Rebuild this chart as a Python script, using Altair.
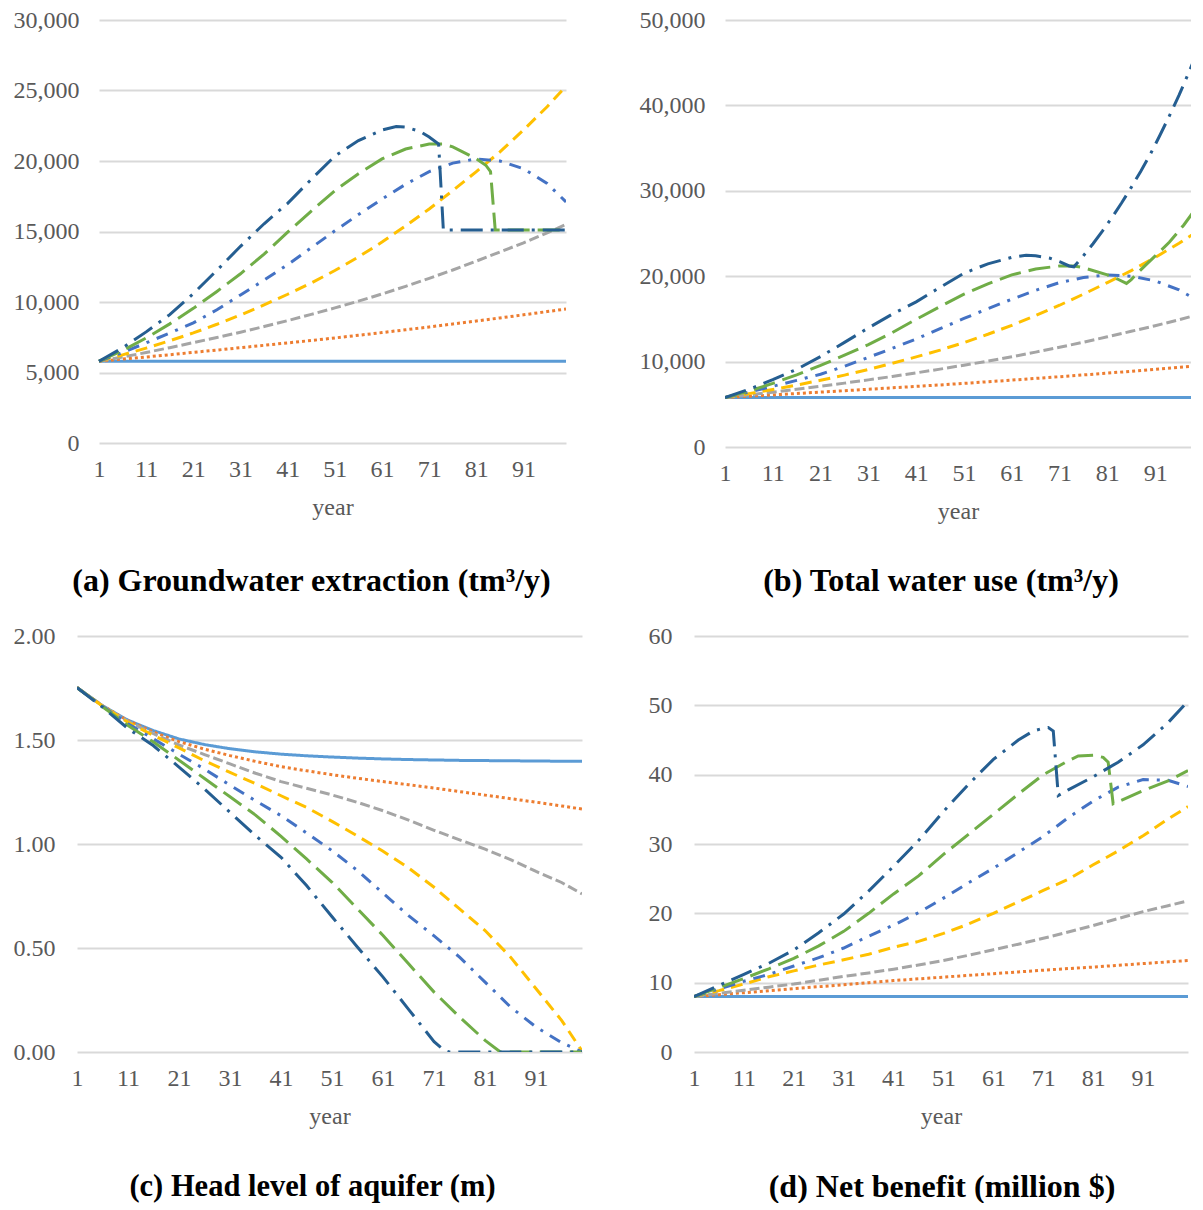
import altair as alt
import pandas as pd

# ---------------- data ----------------
NAMES = ["0%", "0.5%", "1%", "1.5%", "2%", "2.5%", "3%"]
COLORS = ["#5B9BD5", "#ED7D31", "#A5A5A5", "#FFC000", "#4472C4", "#70AD47", "#255E91"]
DASHES = [[1, 0], [3, 3], [10, 4], [12, 7], [12, 8, 3, 8], [22, 8], [22, 8, 3, 8]]

GRID = [1, 6, 11, 16, 21, 26, 31, 36, 41, 46, 51, 56, 61, 66, 71, 76, 81, 86, 91, 96, 100]
X_TICKS = [1, 11, 21, 31, 41, 51, 61, 71, 81, 91]

# (a) Groundwater extraction
A0 = [5800, 5800, 5800, 5800, 5800, 5800, 5800, 5800, 5800, 5800, 5800,
      5800, 5800, 5800, 5800, 5800, 5800, 5800, 5800, 5800, 5800]
A1 = [5800, 5950, 6100, 6260, 6430, 6590, 6760, 6930, 7100, 7270, 7450,
      7640, 7830, 8030, 8230, 8440, 8650, 8870, 9090, 9320, 9500]
A2 = [5800, 6100, 6420, 6760, 7120, 7480, 7860, 8260, 8680, 9120, 9580,
      10060, 10570, 11110, 11680, 12270, 12900, 13550, 14200, 14900, 15500]
A3 = [5800, 6250, 6730, 7250, 7810, 8420, 9080, 9800, 10550, 11350, 12230,
      13200, 14250, 15400, 16600, 17900, 19250, 20650, 22200, 23850, 25300]
A4 = [5800, 6420, 7100, 7800, 8520, 9450, 10500, 11550, 12650, 13850, 15050,
      16200, 17300, 18350, 19250, 19850, 20150, 20000, 19450, 18400, 17100]
A5_YEARS = [1, 6, 11, 16, 21, 26, 31, 36, 41, 46, 51, 56, 61, 66, 71,
            74, 76, 81, 83, 84, 85, 86, 91, 96, 100]
A5 = [5800, 6550, 7450, 8450, 9550, 10750, 12000, 13400, 14950, 16450, 17900,
      19100, 20150, 20850, 21200, 21200, 21000, 20150, 19700, 19250, 15100,
      15100, 15100, 15100, 15100]
A6_YEARS = [1, 6, 11, 16, 21, 26, 31, 36, 41, 46, 51, 56, 61, 64, 66, 69, 71,
            73, 74, 76, 81, 86, 91, 96, 100]
A6 = [5800, 6750, 7880, 9100, 10600, 12250, 13950, 15550, 17000, 18700, 20350,
      21450, 22200, 22450, 22400, 22100, 21700, 21200, 15100, 15100, 15100,
      15100, 15100, 15100, 15100]

# (b) Total water use (first five series equal to (a))
B5_YEARS = [1, 6, 11, 16, 21, 26, 31, 36, 41, 46, 51, 56, 61, 66, 71,
            74, 76, 81, 83, 85, 86, 87, 89, 92, 94, 97, 100]
B5 = [5800, 6550, 7450, 8450, 9550, 10750, 12000, 13400, 14950, 16450, 17900,
      19100, 20150, 20850, 21200, 21200, 21000, 20150, 19700, 19150, 19600,
      20200, 21300, 22900, 24000, 26000, 28300]
B6_YEARS = [1, 6, 11, 16, 21, 26, 31, 36, 41, 46, 51, 56, 61, 64, 66, 69, 71,
            73, 74, 76, 78, 80, 82, 84, 86, 88, 90, 92, 94, 96, 98, 100]
B6 = [5800, 6750, 7880, 9100, 10600, 12250, 13950, 15550, 17000, 18700, 20350,
      21450, 22200, 22450, 22400, 22100, 21700, 21200, 21100, 22400, 23800,
      25300, 26900, 28600, 30400, 32300, 34300, 36500, 38800, 41200, 43800, 46500]

# (c) Head level of aquifer
C0 = [1.752, 1.665, 1.595, 1.545, 1.505, 1.478, 1.458, 1.443, 1.432, 1.424, 1.418,
      1.413, 1.409, 1.406, 1.404, 1.402, 1.401, 1.400, 1.399, 1.398, 1.398]
C1 = [1.752, 1.665, 1.593, 1.538, 1.492, 1.456, 1.425, 1.397, 1.372, 1.352, 1.333,
      1.316, 1.300, 1.285, 1.269, 1.252, 1.235, 1.218, 1.201, 1.183, 1.168]
C2 = [1.752, 1.664, 1.590, 1.530, 1.476, 1.430, 1.385, 1.340, 1.300, 1.268, 1.236,
      1.200, 1.160, 1.115, 1.066, 1.020, 0.975, 0.925, 0.868, 0.815, 0.760]
C3 = [1.752, 1.663, 1.585, 1.522, 1.462, 1.400, 1.344, 1.290, 1.232, 1.176, 1.109,
      1.038, 0.965, 0.885, 0.792, 0.688, 0.584, 0.456, 0.304, 0.152, 0.005]
C4 = [1.752, 1.662, 1.578, 1.505, 1.432, 1.360, 1.283, 1.208, 1.136, 1.053, 0.968,
      0.872, 0.763, 0.656, 0.558, 0.456, 0.336, 0.216, 0.120, 0.045, 0.000]
C5_YEARS = [1, 6, 11, 16, 21, 26, 31, 36, 41, 46, 51, 56, 61, 66, 71, 76, 81,
            84, 86, 91, 96, 100]
C5 = [1.752, 1.660, 1.570, 1.490, 1.403, 1.315, 1.227, 1.139, 1.037, 0.928, 0.816,
      0.688, 0.560, 0.424, 0.288, 0.168, 0.056, 0.0, 0.0, 0.0, 0.0, 0.0]
C6_YEARS = [1, 6, 11, 16, 21, 26, 31, 36, 41, 46, 51, 56, 61, 66, 71,
            73, 74, 76, 81, 86, 91, 96, 100]
C6 = [1.752, 1.658, 1.555, 1.472, 1.370, 1.264, 1.152, 1.040, 0.936, 0.800, 0.650,
      0.504, 0.360, 0.205, 0.050, 0.008, 0.0, 0.0, 0.0, 0.0, 0.0, 0.0, 0.0]

# (d) Net benefit
D0 = [8.0, 8.0, 8.0, 8.0, 8.0, 8.0, 8.0, 8.0, 8.0, 8.0, 8.0,
      8.0, 8.0, 8.0, 8.0, 8.0, 8.0, 8.0, 8.0, 8.0, 8.0]
D1 = [8.0, 8.27, 8.55, 8.85, 9.15, 9.42, 9.70, 10.0, 10.3, 10.55, 10.8,
      11.05, 11.3, 11.55, 11.8, 12.03, 12.25, 12.5, 12.75, 13.0, 13.2]
D2 = [8.0, 8.45, 8.9, 9.35, 9.8, 10.35, 10.9, 11.4, 11.95, 12.55, 13.2,
      13.95, 14.75, 15.55, 16.4, 17.3, 18.25, 19.25, 20.25, 21.1, 21.8]
D3 = [8.0, 8.85, 9.8, 10.85, 11.7, 12.55, 13.3, 14.1, 15.1, 15.95, 17.1,
      18.45, 20.0, 21.65, 23.3, 24.9, 27.0, 29.0, 31.2, 33.6, 35.4]
D4 = [8.0, 9.1, 10.2, 11.2, 12.4, 13.6, 15.0, 16.7, 18.3, 20.1, 22.2,
      24.4, 26.5, 28.8, 31.1, 33.8, 36.2, 38.2, 39.3, 39.2, 38.3]
D5_YEARS = [1, 6, 11, 16, 21, 26, 31, 36, 41, 46, 51, 56, 61, 66, 71, 76,
            78, 81, 83, 84, 85, 86, 91, 96, 100]
D5 = [8.0, 9.3, 10.6, 12.0, 13.5, 15.3, 17.4, 20.0, 22.8, 25.4, 28.5,
      31.4, 34.3, 37.2, 40.0, 42.0, 42.7, 42.8, 42.5, 41.8, 35.8, 36.1, 37.7, 39.1, 40.6]
D6_YEARS = [1, 6, 11, 16, 21, 26, 31, 36, 41, 46, 51, 56, 61, 66,
            69, 71, 72, 73, 74, 76, 81, 86, 91, 96, 100]
D6 = [8.0, 9.6, 11.2, 12.8, 14.7, 17.2, 19.9, 23.2, 26.8, 30.5, 34.7,
      38.6, 42.2, 45.0, 46.3, 46.7, 46.8, 46.3, 37.0, 37.8, 39.7, 41.8, 44.3, 47.5, 50.6]

TITLES = ["(a) Groundwater extraction (tm³/y)", "(b) Total water use (tm³/y)",
          "(c) Head level of aquifer (m)", "(d) Net benefit (million $)"]

# ---------------- styling ----------------
FONT = "Liberation Serif"
GREY_TXT = "#595959"


def frame(series):
    rows = []
    for name, (yrs, vals) in zip(NAMES, series):
        for yr, v in zip(yrs, vals):
            rows.append({"year": yr, "value": v, "series": name})
    return pd.DataFrame(rows)


def panel(df, width, height, xmax, ymax, ystep, fmt, title, dx, toff, ypad,
          lead=0, tsize=32):
    # lead: blank pixels kept at the left of the panel's group (axis moved in)
    yvals = []
    v = 0
    while v <= ymax + 1e-9:
        yvals.append(round(v, 4))
        v += ystep
    xscale = alt.Scale(domain=[1, xmax], nice=False, zero=False)
    if lead:
        xscale = alt.Scale(domain=[1, xmax], nice=False, zero=False,
                           range=[lead, width])
    return alt.Chart(df).mark_line(strokeWidth=3, clip=True).encode(
        x=alt.X("year:Q", scale=xscale,
                axis=alt.Axis(values=X_TICKS, title="year", grid=False, ticks=False,
                              domain=False, labelFlush=False, labelPadding=14,
                              titlePadding=14, labelFont=FONT, labelFontSize=24,
                              labelColor=GREY_TXT, titleFont=FONT, titleFontSize=24,
                              titleFontWeight="normal", titleColor=GREY_TXT)),
        y=alt.Y("value:Q",
                scale=alt.Scale(domain=[0, ymax], nice=False, zero=True),
                axis=alt.Axis(values=yvals, format=fmt, title=None, ticks=False,
                              domain=False, grid=True, gridColor="#D9D9D9",
                              gridWidth=2, labelPadding=ypad, labelFont=FONT,
                              labelFontSize=24, labelColor=GREY_TXT,
                              offset=-lead)),
        color=alt.Color("series:N", scale=alt.Scale(domain=NAMES, range=COLORS),
                        legend=None),
        strokeDash=alt.StrokeDash("series:N",
                                  scale=alt.Scale(domain=NAMES, range=DASHES),
                                  legend=None),
        order=alt.Order("year:Q"),
    ).properties(
        width=width, height=height,
        title=alt.TitleParams(title, orient="bottom", frame="group", anchor="middle",
                              dx=dx, offset=toff, font=FONT, fontSize=tsize,
                              fontWeight="bold", color="black"),
    )


dfA = frame([(GRID, A0), (GRID, A1), (GRID, A2), (GRID, A3), (GRID, A4),
             (A5_YEARS, A5), (A6_YEARS, A6)])
dfB = frame([(GRID, A0), (GRID, A1), (GRID, A2), (GRID, A3), (GRID, A4),
             (B5_YEARS, B5), (B6_YEARS, B6)])
dfC = frame([(GRID, C0), (GRID, C1), (GRID, C2), (GRID, C3), (GRID, C4),
             (C5_YEARS, C5), (C6_YEARS, C6)])
dfD = frame([(GRID, D0), (GRID, D1), (GRID, D2), (GRID, D3), (GRID, D4),
             (D5_YEARS, D5), (D6_YEARS, D6)])

pa = panel(dfA, 489, 423, 100, 30000, 5000, ",.0f", TITLES[0], -10, 47, 20, lead=22)
# panel (b) is cut by the right border of the figure, as in the original
pb = panel(dfB, 466, 427, 98.5, 50000, 10000, ",.0f", TITLES[1], -17, 43, 20)
pc = panel(dfC, 505, 416, 100, 2.0, 0.5, ".2f", TITLES[2], -17, 44, 22, tsize=30.5)
pd_ = panel(dfD, 494, 416, 100, 60, 10, "d", TITLES[3], 1, 44, 22)

row1 = alt.hconcat(pa, pb, spacing=73)
row2 = alt.hconcat(pc, pd_, spacing=66)

chart = alt.vconcat(row1, row2, spacing=27).properties(
    padding={"left": 5, "top": 0, "right": 0, "bottom": 0}
).configure_view(stroke=None)

chart.save("out.html", embed_options={"renderer": "svg", "actions": False})
